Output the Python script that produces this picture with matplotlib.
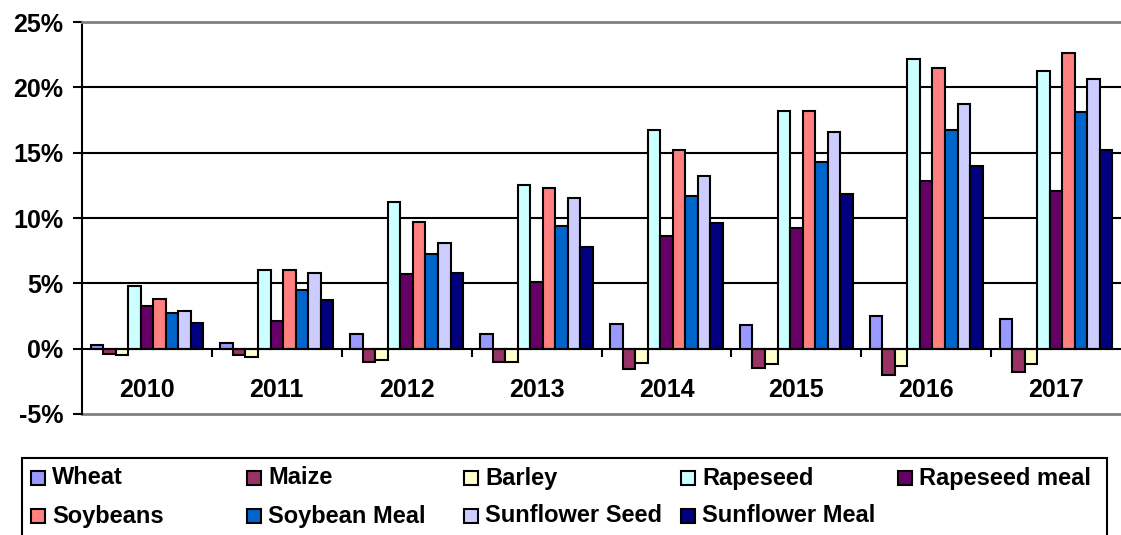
import numpy as np
import matplotlib
matplotlib.use('Agg')
import matplotlib.pyplot as plt
from matplotlib.patches import Rectangle

plt.rcParams['font.family'] = ['Liberation Sans', 'DejaVu Sans']
plt.rcParams['font.weight'] = 'bold'

years = ['2010', '2011', '2012', '2013', '2014', '2015', '2016', '2017']

wheat = [0.3, 0.4, 1.15, 1.1, 1.85, 1.8, 2.5, 2.3]
maize = [-0.4, -0.45, -1.0, -1.0, -1.55, -1.45, -2.05, -1.8]
barley = [-0.5, -0.6, -0.9, -1.0, -1.1, -1.2, -1.35, -1.2]
rapeseed = [4.8, 6.0, 11.2, 12.5, 16.7, 18.2, 22.2, 21.25]
rapeseed_meal = [3.3, 2.15, 5.75, 5.1, 8.6, 9.25, 12.8, 12.1]
soybeans = [3.8, 6.0, 9.7, 12.3, 15.2, 18.2, 21.5, 22.65]
soybean_meal = [2.75, 4.5, 7.25, 9.4, 11.65, 14.25, 16.75, 18.1]
sunflower_seed = [2.85, 5.8, 8.1, 11.5, 13.2, 16.55, 18.7, 20.6]
sunflower_meal = [2.0, 3.75, 5.8, 7.8, 9.6, 11.8, 13.95, 15.2]

series = [
    ('Wheat', wheat, '#9999FF'),
    ('Maize', maize, '#993366'),
    ('Barley', barley, '#FFFFCC'),
    ('Rapeseed', rapeseed, '#CCFFFF'),
    ('Rapeseed meal', rapeseed_meal, '#660066'),
    ('Soybeans', soybeans, '#FF8080'),
    ('Soybean Meal', soybean_meal, '#0066CC'),
    ('Sunflower Seed', sunflower_seed, '#CCCCFF'),
    ('Sunflower Meal', sunflower_meal, '#000080'),
]

W, H = 1121, 535
fig = plt.figure(figsize=(W / 100, H / 100), dpi=100)
ax = fig.add_axes([82 / W, 1 - 414 / H, 1 - 82 / W, (414 - 22) / H])

x = np.arange(len(years))
n = len(series)
bar_w = 0.869 / n
for i, (name, vals, col) in enumerate(series):
    offs = (i - (n - 1) / 2) * bar_w
    ax.bar(x + offs, vals, bar_w, color=col, edgecolor='black', linewidth=1.5, zorder=3)

ax.set_xlim(-0.5, len(years) - 0.5)
ax.set_ylim(-5, 25)

# horizontal gridlines inside the plot area
for v in range(5, 25, 5):
    ax.axhline(v, color='black', linewidth=1.5, zorder=1)
ax.axhline(-5, color='#808080', linewidth=2, zorder=1, clip_on=False)

ax.spines['right'].set_visible(False)
ax.spines['top'].set_color('#808080')
ax.spines['top'].set_linewidth(2)
ax.spines['left'].set_linewidth(1.5)
ax.spines['bottom'].set_position(('data', 0))
ax.spines['bottom'].set_linewidth(1.5)
ax.spines['bottom'].set_zorder(4)

yt = np.arange(-5, 26, 5)
ax.set_yticks(yt)
ax.set_yticklabels([f'{v}%' for v in yt], fontsize=18, fontweight='bold')
ax.tick_params(axis='y', direction='out', length=6.5, width=1.5, pad=7)

ax.set_xticks(x)
ax.set_xticklabels(years, fontsize=18, fontweight='bold')
ax.set_xticks(np.arange(0.5, len(years) - 1, 1), minor=True)
ax.tick_params(axis='x', which='major', length=0, pad=21)
ax.tick_params(axis='x', which='minor', direction='out', length=6, width=1.5)

# legend box below the chart
fig.add_artist(Rectangle((22 / W, 1 - 545 / H), (1107 - 22) / W, (545 - 458) / H,
                         transform=fig.transFigure, facecolor='white',
                         edgecolor='black', linewidth=1.5))
col_x = [31, 247, 464, 681, 898]
row_y = [478, 516]
for i, (name, vals, col) in enumerate(series):
    cx = col_x[i % 5]
    cy = row_y[i // 5]
    fig.add_artist(Rectangle((cx / W, 1 - (cy + 7) / H), 14 / W, 14 / H,
                             transform=fig.transFigure, facecolor=col,
                             edgecolor='black', linewidth=1.5))
    fig.text((cx + 21) / W, 1 - cy / H, name, fontsize=17, fontweight='bold',
             va='center', ha='left')

fig.savefig('out.png', dpi=100)
